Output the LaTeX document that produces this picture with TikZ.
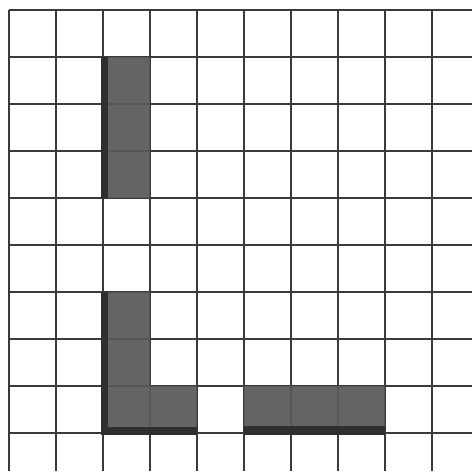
\documentclass[tikz,border=0pt]{standalone}
\definecolor{tile}{HTML}{595959}
\definecolor{shade}{HTML}{2F2F2F}
\definecolor{rule}{HTML}{3A3A3A}
\begin{document}
\begin{tikzpicture}[gridline/.style={draw=rule,line width=1pt},block/.style={fill=tile,fill opacity=.93},edge/.style={fill=shade}]
 \useasboundingbox[fill=white] (-0.19,0.21) rectangle (9.85,-9.81);
 % grid
 \foreach \i in {0,...,9} {
  \draw[gridline] (\i,0) -- (\i,-9.81);
  \draw[gridline] (0,-\i) -- (9.85,-\i);
 }
 % shaded blocks
 \fill[block] (2,-1) rectangle (3,-4);
 \fill[edge] (1.95,-1) rectangle (2.1,-4);
 \fill[block] (2,-6) -- (3,-6) -- (3,-8) -- (4,-8) -- (4,-9) -- (2,-9) -- cycle;
 \fill[edge] (1.95,-6) rectangle (2.1,-9.05);
 \fill[edge] (1.95,-8.88) rectangle (4,-9.05);
 \fill[block] (5,-8) rectangle (8,-9);
 \fill[edge] (5,-8.85) rectangle (8,-9.05);
\end{tikzpicture}
\end{document}
